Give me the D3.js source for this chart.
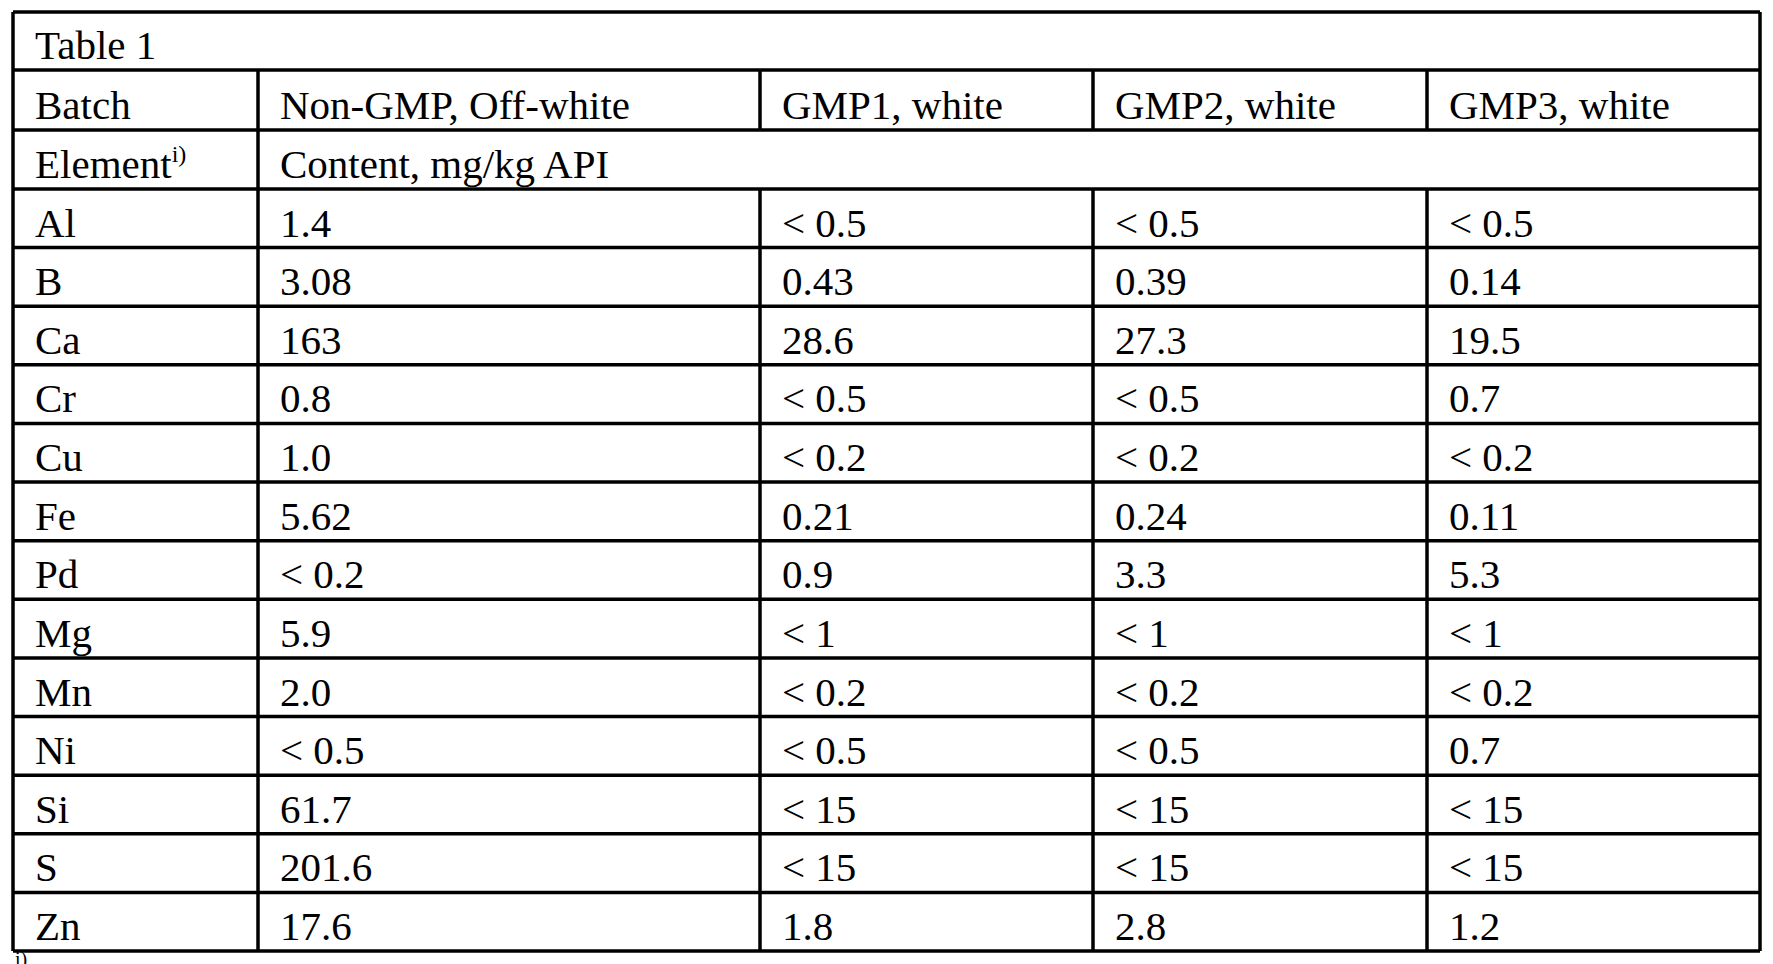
<!DOCTYPE html>
<html><head><meta charset="utf-8">
<script src="https://cdn.jsdelivr.net/npm/d3@7"></script>
<style>body{margin:0;background:#fff}</style></head>
<body><svg id="c" width="1773" height="964"></svg>
<script>
const title = "Table 1";
const batches = ["Non-GMP, Off-white", "GMP1, white", "GMP2, white", "GMP3, white"];
const elements = ["Al","B","Ca","Cr","Cu","Fe","Pd","Mg","Mn","Ni","Si","S","Zn"];
const nonGMP = ["1.4","3.08","163","0.8","1.0","5.62","< 0.2","5.9","2.0","< 0.5","61.7","201.6","17.6"];
const gmp1 = ["< 0.5","0.43","28.6","< 0.5","< 0.2","0.21","0.9","< 1","< 0.2","< 0.5","< 15","< 15","1.8"];
const gmp2 = ["< 0.5","0.39","27.3","< 0.5","< 0.2","0.24","3.3","< 1","< 0.2","< 0.5","< 15","< 15","2.8"];
const gmp3 = ["< 0.5","0.14","19.5","0.7","< 0.2","0.11","5.3","< 1","< 0.2","0.7","< 15","< 15","1.2"];

const svg = d3.select("#c");
const colEdges = [13, 258, 760, 1093, 1427, 1760];
const rowEdges = [12, 70, 130, 189];
const rowH = (951 - 189) / elements.length;
elements.forEach((e,i)=>rowEdges.push(189 + rowH*(i+1)));
const yTop = rowEdges[0], yBot = rowEdges[rowEdges.length-1];
const F = "'Liberation Serif','Times New Roman',serif";
const g = svg.append("g").attr("stroke","#000").attr("stroke-width",3.5);
rowEdges.forEach(y=>g.append("line").attr("x1",colEdges[0]).attr("x2",colEdges[5]).attr("y1",y).attr("y2",y));
g.append("line").attr("x1",colEdges[0]).attr("x2",colEdges[0]).attr("y1",yTop).attr("y2",yBot);
g.append("line").attr("x1",colEdges[5]).attr("x2",colEdges[5]).attr("y1",yTop).attr("y2",yBot);
g.append("line").attr("x1",colEdges[1]).attr("x2",colEdges[1]).attr("y1",rowEdges[1]).attr("y2",yBot);
[2,3,4].forEach(c=>{
  g.append("line").attr("x1",colEdges[c]).attr("x2",colEdges[c]).attr("y1",rowEdges[1]).attr("y2",rowEdges[2]);
  g.append("line").attr("x1",colEdges[c]).attr("x2",colEdges[c]).attr("y1",rowEdges[3]).attr("y2",yBot);
});
function txt(x,y,s){return svg.append("text").attr("x",x).attr("y",y).attr("font-family",F).attr("font-size",41).attr("fill","#000").text(s);}
const pad = 22, base = 11;
txt(colEdges[0]+pad, rowEdges[1]-base, title);
txt(colEdges[0]+pad, rowEdges[2]-base, "Batch");
batches.forEach((b,i)=>txt(colEdges[i+1]+pad, rowEdges[2]-base, b));
const el = txt(colEdges[0]+pad, rowEdges[3]-base, "Element");
el.append("tspan").attr("dy",-16).attr("font-size",24).text("i)");
txt(colEdges[1]+pad, rowEdges[3]-base, "Content, mg/kg API");
const cols = [elements, nonGMP, gmp1, gmp2, gmp3];
elements.forEach((e,i)=>{
  cols.forEach((c,j)=>txt(colEdges[j]+pad, rowEdges[i+4]-base, c[i]));
});
svg.append("text").attr("x",colEdges[0]+2).attr("y",966).attr("font-family",F).attr("font-size",20).text("i)");
</script></body></html>
